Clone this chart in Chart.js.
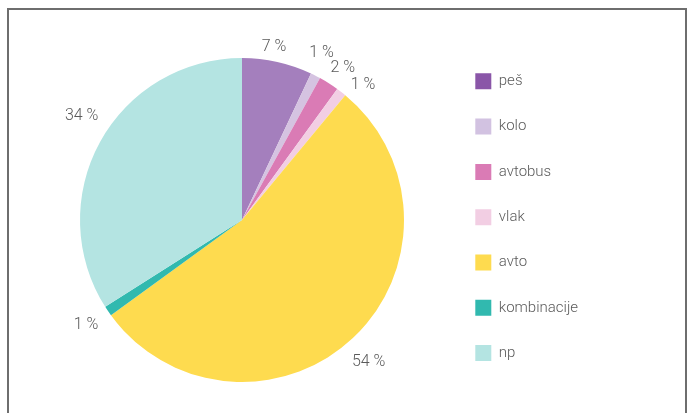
<!DOCTYPE html>
<html>
<head>
<meta charset="utf-8">
<script src="https://cdn.jsdelivr.net/npm/chart.js@4/dist/chart.umd.min.js"></script>
<style>
  html, body { margin: 0; padding: 0; background: #fff; }
  body { width: 687px; height: 413px; position: relative; overflow: hidden; }
  #chart { position: absolute; left: 0; top: 0; }
  #frame {
    position: absolute; left: 7px; top: 8px; width: 676px; height: 420px;
    border: 2px solid #6e6e6e; border-bottom: none; pointer-events: none;
  }
</style>
</head>
<body>
<canvas id="chart" width="687" height="413"></canvas>
<div id="frame"></div>
<script>
const categories = ['peš', 'kolo', 'avtobus', 'vlak', 'avto', 'kombinacije', 'np']
const shares = [7, 1, 2, 1, 54, 1, 34]
const sliceColors = ['#a47fbd', '#d5c3e1', '#da7bb5', '#f2cee3', '#fedb4f', '#31b9af', '#b4e4e2']
const legendColors = ['#8a56a8', '#d2c2e1', '#da7bb5', '#f2cee3', '#fedb4f', '#31b9af', '#b4e4e2']
// nudges so the percent labels sit like in the original (degrees, px outside the rim)
const labelShift = [-2.1, -1.5, 1.2, 4.2, 1.4, 0.2, 4.1]
const labelGap = [14, 23, 20, 19, 28, 26, 29]

const textColor = '#5a5a5a'
const fontFamily = 'Roboto, "Liberation Sans", sans-serif'
const legendFont = { family: fontFamily, size: 15, weight: 300 }
const legendPad = 29.3
const boxSize = 16
const legendLeft = 446

// measure legend so its left edge lands where the boxes are in the original
const mctx = document.createElement('canvas').getContext('2d')
mctx.font = '300 15px ' + fontFamily
const widest = Math.max(...categories.map(c => mctx.measureText(c).width))
const legendWidth = legendPad + boxSize + legendFont.size / 2 + widest + 10
const padRight = 687 - legendLeft - legendWidth

const percentLabels = {
  id: 'percentLabels',
  afterDatasetsDraw(chart) {
    const ctx = chart.ctx
    const meta = chart.getDatasetMeta(0)
    ctx.save()
    ctx.font = '300 16px ' + fontFamily
    ctx.fillStyle = textColor
    ctx.textAlign = 'center'
    ctx.textBaseline = 'middle'
    meta.data.forEach((arc, i) => {
      const { x, y, startAngle, endAngle, outerRadius } = arc.getProps(['x', 'y', 'startAngle', 'endAngle', 'outerRadius'])
      const mid = (startAngle + endAngle) / 2 + labelShift[i] * Math.PI / 180
      const r = outerRadius + labelGap[i]
      ctx.fillText(shares[i] + ' %', x + Math.cos(mid) * r, y + Math.sin(mid) * r)
    })
    ctx.restore()
  }
}

new Chart(document.getElementById('chart'), {
  type: 'pie',
  data: {
    labels: categories,
    datasets: [{
      data: shares,
      backgroundColor: sliceColors,
      borderWidth: 0
    }]
  },
  options: {
    responsive: false,
    animation: false,
    devicePixelRatio: 1,
    radius: 162,
    layout: {
      padding: { left: 38, right: padRight, top: 44, bottom: 17 }
    },
    plugins: {
      tooltip: { enabled: false },
      legend: {
        position: 'right',
        align: 'start',
        labels: {
          boxWidth: boxSize,
          boxHeight: boxSize,
          padding: legendPad,
          color: textColor,
          font: legendFont,
          generateLabels(chart) {
            return categories.map((c, i) => ({
              text: c,
              fillStyle: legendColors[i],
              strokeStyle: legendColors[i],
              lineWidth: 0,
              fontColor: textColor,
              hidden: false,
              index: i
            }))
          }
        }
      }
    }
  },
  plugins: [percentLabels]
})
</script>
</body>
</html>
